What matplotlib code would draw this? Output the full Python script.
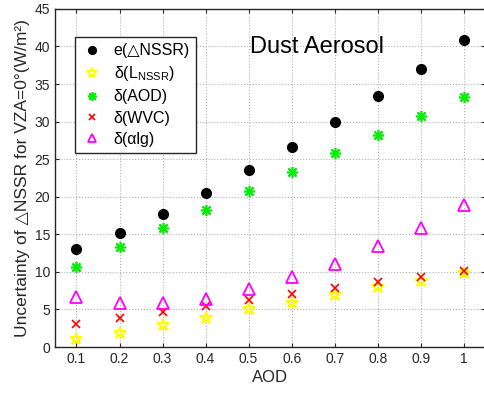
import numpy as np
import matplotlib.pyplot as plt

plt.rcParams['font.family'] = ['Liberation Sans', 'DejaVu Sans']
plt.rcParams['mathtext.fontset'] = 'custom'
plt.rcParams['mathtext.rm'] = 'Liberation Sans'

aod = [0.1, 0.2, 0.3, 0.4, 0.5, 0.6, 0.7, 0.8, 0.9, 1.0]
e_nssr = [13.0, 15.2, 17.7, 20.5, 23.5, 26.6, 30.0, 33.4, 37.0, 40.8]
d_lnssr = [1.0, 1.9, 2.9, 3.9, 5.0, 5.8, 6.9, 8.0, 8.8, 9.9]
d_aod = [10.7, 13.3, 15.8, 18.3, 20.8, 23.3, 25.8, 28.2, 30.7, 33.3]
d_wvc = [3.1, 3.8, 4.6, 5.4, 6.2, 7.0, 7.8, 8.6, 9.3, 10.1]
d_alg = [6.7, 5.9, 5.9, 6.4, 7.7, 9.3, 11.1, 13.4, 15.9, 18.9]

fig = plt.figure(figsize=(4.84, 3.95), dpi=100)
ax = fig.add_axes([0.1136, 0.1215, 0.889, 0.856])

ax.plot(aod, e_nssr, 'o', color='black', markersize=7, linestyle='none', label='e(△NSSR)')
ax.plot(aod, d_lnssr, '*', markerfacecolor='none', markeredgecolor='yellow', markeredgewidth=1.5,
        markersize=9, linestyle='none', label=r'δ(L$_{\mathregular{NSSR}}$)')
ax.plot(aod, d_aod, marker=(8, 2, 0), color='#00ee00', markersize=8, markeredgewidth=1.2,
        linestyle='none', label='δ(AOD)')
ax.plot(aod, d_wvc, 'x', color='red', markersize=6, markeredgewidth=1.2, linestyle='none', label='δ(WVC)')
ax.plot(aod, d_alg, '^', markerfacecolor='none', markeredgecolor='magenta', markeredgewidth=1.3,
        markersize=8, linestyle='none', label='δ(αlg)')

ax.set_xlim(0.05, 1.05)
ax.set_ylim(0, 45)
ax.set_xticks(aod)
ax.set_xticklabels(['0.1', '0.2', '0.3', '0.4', '0.5', '0.6', '0.7', '0.8', '0.9', '1'])
ax.set_yticks(np.arange(0, 46, 5))
ax.tick_params(direction='in', top=True, right=True, labelsize=10, colors='#262626', length=3)
ax.grid(True, linestyle=':', color='#b0b0b0', linewidth=0.8)
for s in ax.spines.values():
    s.set_linewidth(1.0)
    s.set_color('#262626')

ax.set_xlabel('AOD', fontsize=12, color='#262626', labelpad=3)
ax.set_ylabel('Uncertainty of △NSSR for VZA=0°(W/m²)', fontsize=12.5, color='#262626', labelpad=3)
ax.text(0.61, 0.888, 'Dust Aerosol', transform=ax.transAxes, fontsize=17, ha='center', va='center')

leg = ax.legend(loc='upper left', bbox_to_anchor=(0.047, 0.917), borderaxespad=0, fontsize=11.5,
                fancybox=False, edgecolor='#262626', framealpha=1, borderpad=0.4, labelspacing=0.38,
                handletextpad=0.7, handlelength=1.3, markerscale=0.8)
leg.get_frame().set_linewidth(1.0)

fig.savefig('out.png', dpi=100)
